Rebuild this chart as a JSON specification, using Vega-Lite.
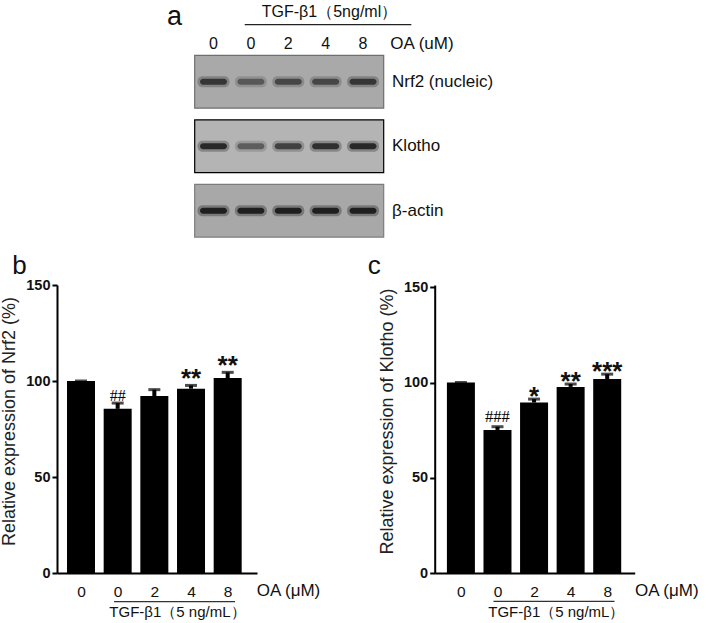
{
  "$schema": "https://vega.github.io/schema/vega-lite/v6.json",
  "background": "white",
  "padding": {"left": 0, "top": 2, "right": 0, "bottom": 0},
  "config": {
    "view": {"stroke": null},
    "font": "Liberation Sans",
    "axis": {"grid": false, "domainColor": "#000", "tickColor": "#000", "labelColor": "#111", "titleColor": "#222", "labelFont": "Liberation Sans", "titleFont": "Liberation Sans"}
  },
  "datasets": {
    "bands": [
      {"protein": "Nrf2", "row": 1, "lane": 1, "intensity": 0.78},
      {"protein": "Nrf2", "row": 1, "lane": 2, "intensity": 0.5},
      {"protein": "Nrf2", "row": 1, "lane": 3, "intensity": 0.64},
      {"protein": "Nrf2", "row": 1, "lane": 4, "intensity": 0.64},
      {"protein": "Nrf2", "row": 1, "lane": 5, "intensity": 0.78},
      {"protein": "Klotho", "row": 2, "lane": 1, "intensity": 0.9},
      {"protein": "Klotho", "row": 2, "lane": 2, "intensity": 0.5},
      {"protein": "Klotho", "row": 2, "lane": 3, "intensity": 0.7},
      {"protein": "Klotho", "row": 2, "lane": 4, "intensity": 0.85},
      {"protein": "Klotho", "row": 2, "lane": 5, "intensity": 0.92},
      {"protein": "actin", "row": 3, "lane": 1, "intensity": 1},
      {"protein": "actin", "row": 3, "lane": 2, "intensity": 1},
      {"protein": "actin", "row": 3, "lane": 3, "intensity": 1},
      {"protein": "actin", "row": 3, "lane": 4, "intensity": 1},
      {"protein": "actin", "row": 3, "lane": 5, "intensity": 1}
    ],
    "boxes": [
      {"protein": "Nrf2", "row": 1, "label": "Nrf2 (nucleic)"},
      {"protein": "Klotho", "row": 2, "label": "Klotho"},
      {"protein": "actin", "row": 3, "label": "β-actin"}
    ],
    "doses": [
      {"lane": 1, "oa": "0"}, {"lane": 2, "oa": "0"}, {"lane": 3, "oa": "2"}, {"lane": 4, "oa": "4"}, {"lane": 5, "oa": "8"}
    ],
    "nrf2": [
      {"lane": 1, "mean": 100, "upper": 100, "sig": ""},
      {"lane": 2, "mean": 85.5, "upper": 88.5, "sig": "##"},
      {"lane": 3, "mean": 92.2, "upper": 95.5, "sig": ""},
      {"lane": 4, "mean": 96, "upper": 97.7, "sig": "**"},
      {"lane": 5, "mean": 101.5, "upper": 104.5, "sig": "**"}
    ],
    "klotho": [
      {"lane": 1, "mean": 100, "upper": 100, "sig": ""},
      {"lane": 2, "mean": 75.1, "upper": 76.8, "sig": "###"},
      {"lane": 3, "mean": 89.5, "upper": 91.3, "sig": "*"},
      {"lane": 4, "mean": 97.7, "upper": 99.2, "sig": "**"},
      {"lane": 5, "mean": 101.8, "upper": 104.4, "sig": "***"}
    ]
  },
  "spacing": 43,
  "bounds": "flush",
  "vconcat": [
    {
      "width": 577,
      "height": 240,
      "resolve": {"scale": {"opacity": "independent"}},
      "layer": [
        {
          "data": {"name": "boxes"},
          "mark": {"type": "tick", "orient": "horizontal", "size": 189, "thickness": 52.7, "strokeWidth": 1.2, "opacity": 1},
          "encoding": {
            "x": {"datum": 3.025, "type": "quantitative", "scale": {"domain": [-3.187, 12.25], "nice": false, "zero": false}, "axis": null},
            "y": {"field": "row", "type": "quantitative", "scale": {"domain": [-0.236, 3.485], "nice": false, "zero": false, "reverse": true}, "axis": null},
            "fill": {"field": "protein", "type": "nominal", "scale": {"domain": ["Nrf2", "Klotho", "actin"], "range": ["#a9a9a9", "#b4b4b4", "#a8a8a8"]}, "legend": null},
            "stroke": {"field": "protein", "type": "nominal", "scale": {"domain": ["Nrf2", "Klotho", "actin"], "range": ["#6e6e6e", "#000000", "#7c7c7c"]}, "legend": null}
          }
        },
        {
          "data": {"name": "bands"},
          "mark": {"type": "tick", "orient": "horizontal", "size": 32, "thickness": 11, "color": "#222", "cornerRadius": 5},
          "encoding": {
            "x": {"field": "lane", "type": "quantitative"},
            "y": {"field": "row", "type": "quantitative"},
            "opacity": {"field": "intensity", "type": "quantitative", "scale": {"domain": [0, 1], "range": [0, 0.35]}, "legend": null}
          }
        },
        {
          "data": {"name": "bands"},
          "mark": {"type": "tick", "orient": "horizontal", "size": 27, "thickness": 6, "color": "#1a1a1a", "cornerRadius": 3},
          "encoding": {
            "x": {"field": "lane", "type": "quantitative"},
            "y": {"field": "row", "type": "quantitative"},
            "opacity": {"field": "intensity", "type": "quantitative", "scale": {"domain": [0, 1], "range": [0, 0.95]}, "legend": null}
          }
        },
        {
          "data": {"name": "boxes"},
          "mark": {"type": "text", "align": "left", "baseline": "middle", "fontSize": 17, "color": "#111"},
          "encoding": {
            "x": {"datum": 5.776, "type": "quantitative"},
            "y": {"field": "row", "type": "quantitative"},
            "text": {"field": "label"}
          }
        },
        {
          "data": {"name": "doses"},
          "mark": {"type": "text", "align": "center", "baseline": "alphabetic", "fontSize": 16, "color": "#111"},
          "encoding": {
            "x": {"field": "lane", "type": "quantitative"},
            "y": {"datum": 0.488, "type": "quantitative"},
            "text": {"field": "oa"}
          }
        },
        {
          "data": {"values": [{}]},
          "mark": {"type": "text", "align": "left", "baseline": "alphabetic", "fontSize": 17, "color": "#111"},
          "encoding": {
            "x": {"datum": 5.73, "type": "quantitative"},
            "y": {"datum": 0.488, "type": "quantitative"},
            "text": {"value": "OA (uM)"}
          }
        },
        {
          "data": {"values": [{}]},
          "mark": {"type": "text", "align": "center", "baseline": "alphabetic", "fontSize": 16, "color": "#111"},
          "encoding": {
            "x": {"datum": 4.104, "type": "quantitative"},
            "y": {"datum": 0.0, "type": "quantitative"},
            "text": {"value": "TGF-β1（5ng/ml）"}
          }
        },
        {
          "data": {"values": [{}]},
          "mark": {"type": "rule", "color": "#222", "strokeWidth": 1.3},
          "encoding": {
            "x": {"datum": 1.835, "type": "quantitative"},
            "x2": {"datum": 6.293},
            "y": {"datum": 0.116, "type": "quantitative"}
          }
        },
        {
          "data": {"values": [{}]},
          "mark": {"type": "text", "align": "left", "baseline": "alphabetic", "fontSize": 27, "color": "#111"},
          "encoding": {
            "x": {"datum": -0.244, "type": "quantitative"},
            "y": {"datum": 0.125, "type": "quantitative"},
            "text": {"value": "a"}
          }
        }
      ]
    },
    {
      "spacing": 177.7,
      "bounds": "flush",
      "hconcat": [
        {
          "width": 200,
          "height": 288,
          "data": {"name": "nrf2"},
          "layer": [
            {
              "mark": {"type": "bar", "size": 28, "color": "#000"},
              "encoding": {
                "x": {"field": "lane", "type": "quantitative", "scale": {"domain": [0.482, 5.663], "nice": false, "zero": false},
                  "axis": {"title": null, "values": [1, 2, 3, 4, 5], "ticks": false, "tickSize": 0, "domainWidth": 2, "labelFontSize": 15.5, "labelPadding": 11, "labelExpr": "datum.value == 1 ? '0' : datum.value == 2 ? '0' : datum.value == 3 ? '2' : datum.value == 4 ? '4' : '8'"}},
                "y": {"field": "mean", "type": "quantitative", "scale": {"domain": [0, 150], "nice": false},
                  "axis": {"title": "Relative expression of Nrf2 (%)", "values": [0, 50, 100, 150], "domainWidth": 2, "tickWidth": 2, "tickSize": 5, "labelFontSize": 14.5, "labelFontWeight": "bold", "labelPadding": 2, "titleFontSize": 18, "titleFontWeight": "normal", "titlePadding": 7, "titleY": 136}}
              }
            },
            {
              "mark": {"type": "rule", "color": "#000", "strokeWidth": 4},
              "encoding": {
                "x": {"field": "lane", "type": "quantitative"},
                "y": {"field": "mean", "type": "quantitative"},
                "y2": {"field": "upper"}
              }
            },
            {
              "mark": {"type": "tick", "orient": "horizontal", "color": "#000", "size": 12, "thickness": 3},
              "encoding": {
                "x": {"field": "lane", "type": "quantitative"},
                "y": {"field": "upper", "type": "quantitative"}
              }
            },
            {
              "transform": [{"filter": "datum.sig == '##' || datum.sig == '###'"}],
              "mark": {"type": "text", "font": "Liberation Serif", "fontSize": 16, "baseline": "alphabetic", "dy": -2, "color": "#000"},
              "encoding": {
                "x": {"field": "lane", "type": "quantitative"},
                "y": {"field": "upper", "type": "quantitative"},
                "text": {"field": "sig"}
              }
            },
            {
              "transform": [{"filter": "datum.sig == '*' || datum.sig == '**' || datum.sig == '***'"}],
              "mark": {"type": "text", "fontSize": 26, "fontWeight": "bold", "baseline": "alphabetic", "dy": 2, "color": "#111"},
              "encoding": {
                "x": {"field": "lane", "type": "quantitative"},
                "y": {"field": "upper", "type": "quantitative"},
                "text": {"field": "sig"}
              }
            },
            {
              "data": {"values": [{}]},
              "mark": {"type": "text", "align": "left", "baseline": "alphabetic", "fontSize": 26, "color": "#111"},
              "encoding": {
                "x": {"datum": -0.873, "type": "quantitative"},
                "y": {"datum": 155.7, "type": "quantitative"},
                "text": {"value": "b"}
              }
            },
            {
              "data": {"values": [{}]},
              "mark": {"type": "text", "align": "left", "baseline": "alphabetic", "fontSize": 17, "color": "#111"},
              "encoding": {
                "x": {"datum": 5.79, "type": "quantitative"},
                "y": {"datum": -12.1, "type": "quantitative"},
                "text": {"value": "OA (μM)"}
              }
            },
            {
              "data": {"values": [{}]},
              "mark": {"type": "rule", "color": "#333", "strokeWidth": 1.2},
              "encoding": {
                "x": {"datum": 1.9, "type": "quantitative"},
                "x2": {"datum": 5.2},
                "y": {"datum": -14.9, "type": "quantitative"}
              }
            },
            {
              "data": {"values": [{}]},
              "mark": {"type": "text", "align": "center", "baseline": "alphabetic", "fontSize": 15, "color": "#111"},
              "encoding": {
                "x": {"datum": 3.63, "type": "quantitative"},
                "y": {"datum": -22.9, "type": "quantitative"},
                "text": {"value": "TGF-β1（5 ng/mL）"}
              }
            }
          ]
        },
        {
          "width": 200,
          "height": 288,
          "data": {"name": "klotho"},
          "layer": [
            {
              "mark": {"type": "bar", "size": 28, "color": "#000"},
              "encoding": {
                "x": {"field": "lane", "type": "quantitative", "scale": {"domain": [0.42, 5.615], "nice": false, "zero": false},
                  "axis": {"title": null, "values": [1, 2, 3, 4, 5], "ticks": false, "tickSize": 0, "domainWidth": 2, "labelFontSize": 15.5, "labelPadding": 11, "labelExpr": "datum.value == 1 ? '0' : datum.value == 2 ? '0' : datum.value == 3 ? '2' : datum.value == 4 ? '4' : '8'"}},
                "y": {"field": "mean", "type": "quantitative", "scale": {"domain": [0, 151.2], "nice": false},
                  "axis": {"title": "Relative expression of Klotho (%)", "values": [0, 50, 100, 150], "domainWidth": 2, "tickWidth": 2, "tickSize": 5, "labelFontSize": 14.5, "labelFontWeight": "bold", "labelPadding": 2, "titleFontSize": 18, "titleFontWeight": "normal", "titlePadding": 7, "titleY": 136}}
              }
            },
            {
              "mark": {"type": "rule", "color": "#000", "strokeWidth": 4},
              "encoding": {
                "x": {"field": "lane", "type": "quantitative"},
                "y": {"field": "mean", "type": "quantitative"},
                "y2": {"field": "upper"}
              }
            },
            {
              "mark": {"type": "tick", "orient": "horizontal", "color": "#000", "size": 12, "thickness": 3},
              "encoding": {
                "x": {"field": "lane", "type": "quantitative"},
                "y": {"field": "upper", "type": "quantitative"}
              }
            },
            {
              "transform": [{"filter": "datum.sig == '##' || datum.sig == '###'"}],
              "mark": {"type": "text", "font": "Liberation Serif", "fontSize": 16.5, "baseline": "alphabetic", "dy": -5, "color": "#000"},
              "encoding": {
                "x": {"field": "lane", "type": "quantitative"},
                "y": {"field": "upper", "type": "quantitative"},
                "text": {"field": "sig"}
              }
            },
            {
              "transform": [{"filter": "datum.sig == '*' || datum.sig == '**' || datum.sig == '***'"}],
              "mark": {"type": "text", "fontSize": 26, "fontWeight": "bold", "baseline": "alphabetic", "dy": 6, "color": "#111"},
              "encoding": {
                "x": {"field": "lane", "type": "quantitative"},
                "y": {"field": "upper", "type": "quantitative"},
                "text": {"field": "sig"}
              }
            },
            {
              "data": {"values": [{}]},
              "mark": {"type": "text", "align": "left", "baseline": "alphabetic", "fontSize": 26, "color": "#111"},
              "encoding": {
                "x": {"datum": -1.55, "type": "quantitative"},
                "y": {"datum": 157.1, "type": "quantitative"},
                "text": {"value": "c"}
              }
            },
            {
              "data": {"values": [{}]},
              "mark": {"type": "text", "align": "left", "baseline": "alphabetic", "fontSize": 17, "color": "#111"},
              "encoding": {
                "x": {"datum": 5.76, "type": "quantitative"},
                "y": {"datum": -12.2, "type": "quantitative"},
                "text": {"value": "OA (μM)"}
              }
            },
            {
              "data": {"values": [{}]},
              "mark": {"type": "rule", "color": "#333", "strokeWidth": 1.2},
              "encoding": {
                "x": {"datum": 1.89, "type": "quantitative"},
                "x2": {"datum": 5.2},
                "y": {"datum": -14.9, "type": "quantitative"}
              }
            },
            {
              "data": {"values": [{}]},
              "mark": {"type": "text", "align": "center", "baseline": "alphabetic", "fontSize": 15, "color": "#111"},
              "encoding": {
                "x": {"datum": 3.61, "type": "quantitative"},
                "y": {"datum": -23.0, "type": "quantitative"},
                "text": {"value": "TGF-β1（5 ng/mL）"}
              }
            }
          ]
        }
      ]
    }
  ]
}
